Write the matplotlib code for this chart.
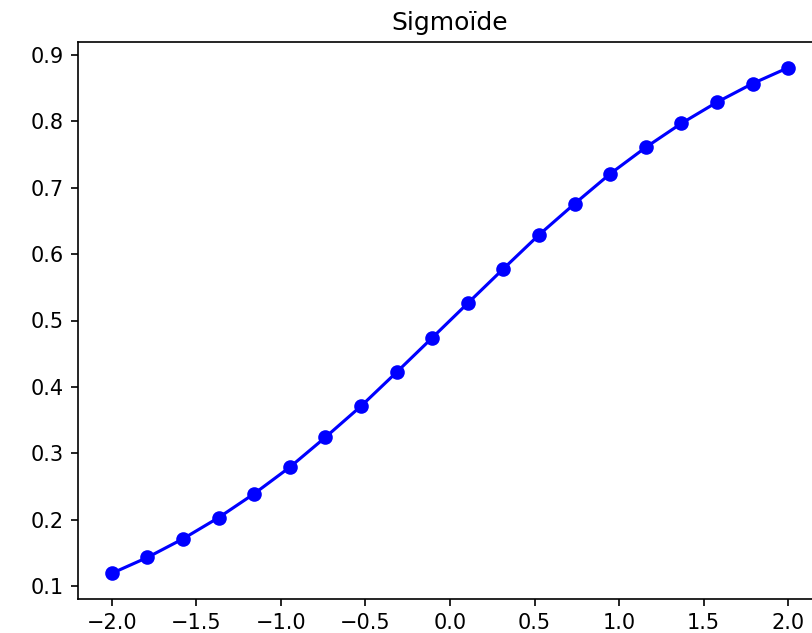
import matplotlib
matplotlib.use("Agg")
import matplotlib.pyplot as plt

# points (20 evenly spaced x from -2 to 2)
x_vals = [-2.0, -1.789, -1.579, -1.368, -1.158, -0.947, -0.737, -0.526, -0.316, -0.105,
          0.105, 0.316, 0.526, 0.737, 0.947, 1.158, 1.368, 1.579, 1.789, 2.0]
y_vals = [0.119, 0.143, 0.171, 0.203, 0.239, 0.279, 0.324, 0.371, 0.422, 0.474,
          0.526, 0.578, 0.629, 0.676, 0.721, 0.761, 0.797, 0.829, 0.857, 0.881]
title = "Sigmoïde"

fig = plt.figure(figsize=(812 / 150, 633 / 150), dpi=150)
# axes run past the right edge, as in the reference crop
ax = fig.add_axes([78 / 812, (633 - 598.6) / 633, 744 / 812, 556.2 / 633])
ax.plot(x_vals, y_vals, "bo-")
ax.set_title(title)
ax.set_yticks([0.1, 0.2, 0.3, 0.4, 0.5, 0.6, 0.7, 0.8, 0.9])

fig.savefig("out.png", dpi=150)
